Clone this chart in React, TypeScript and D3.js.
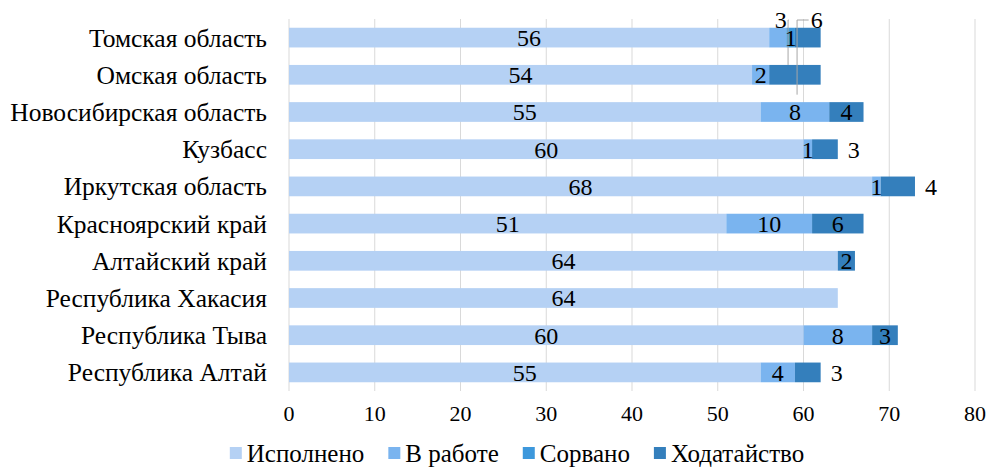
import { useEffect, useRef } from 'react'
import * as d3 from 'd3'

const categories = [
  'Томская область',
  'Омская область',
  'Новосибирская область',
  'Кузбасс',
  'Иркутская область',
  'Красноярский край',
  'Алтайский край',
  'Республика Хакасия',
  'Республика Тыва',
  'Республика Алтай',
]

const seriesNames = ['Исполнено', 'В работе', 'Сорвано', 'Ходатайство']
const colors = ['#b5d1f4', '#7ab4ef', '#3d98dc', '#347fbc']

const done = [56, 54, 55, 60, 68, 51, 64, 64, 60, 55]
const inWork = [2, 2, 8, 1, 1, 10, 0, 0, 8, 4]
const failed = [1, 0, 0, 0, 0, 0, 0, 0, 0, 0]
const petition = [3, 6, 4, 3, 4, 6, 2, 0, 3, 3]

// how the "Ходатайство" label sits: in the bar, after the bar end, or above the chart with a leader
const petitionLabelPos = ['above', 'above', 'in', 'out', 'out', 'in', 'in', 'in', 'in', 'out']
const hiddenLabels = [[0, 1]] // [row, series]

const xTicks = [0, 10, 20, 30, 40, 50, 60, 70, 80]

const FONT = 'Liberation Serif'

export default function App() {
  const svgRef = useRef<SVGSVGElement>(null)

  useEffect(() => {
    document.body.style.margin = '0'
    const width = 988
    const height = 468
    const margin = { top: 19, right: 13, bottom: 77, left: 289 }

    const root = d3.select(svgRef.current)
    root.selectAll('*').remove()
    root.attr('width', width).attr('height', height)

    const x = d3.scaleLinear().domain([0, 80]).range([margin.left, width - margin.right])
    const y = d3
      .scaleBand()
      .domain(categories)
      .range([margin.top, height - margin.bottom])
      .paddingInner(0.47)
      .paddingOuter(0.235)

    // gridlines
    root
      .append('g')
      .selectAll('line')
      .data(xTicks)
      .enter()
      .append('line')
      .attr('x1', (d) => x(d))
      .attr('x2', (d) => x(d))
      .attr('y1', margin.top)
      .attr('y2', height - margin.bottom)
      .attr('stroke', '#d9d9d9')
      .attr('stroke-width', 1)

    // tick labels
    root
      .append('g')
      .selectAll('text')
      .data(xTicks)
      .enter()
      .append('text')
      .attr('x', (d) => x(d))
      .attr('y', 421)
      .attr('text-anchor', 'middle')
      .style('font-family', FONT)
      .style('font-size', '22px')
      .text((d) => d)

    // category labels
    root
      .append('g')
      .selectAll('text')
      .data(categories)
      .enter()
      .append('text')
      .attr('x', margin.left - 22)
      .attr('y', (d) => (y(d) as number) + y.bandwidth() / 2)
      .attr('dy', '0.35em')
      .attr('text-anchor', 'end')
      .style('font-family', FONT)
      .style('font-size', '25.5px')
      .text((d) => d)

    const table = categories.map((c, i) => ({
      cat: c,
      vals: [done[i], inWork[i], failed[i], petition[i]],
    }))
    const stack = d3
      .stack<any>()
      .keys([0, 1, 2, 3] as any)
      .value((d: any, k: any) => d.vals[k])(table)

    const bars = root.append('g')
    stack.forEach((layer, s) => {
      bars
        .append('g')
        .attr('fill', colors[s])
        .selectAll('rect')
        .data(layer.filter((d) => d[1] - d[0] > 0))
        .enter()
        .append('rect')
        .attr('x', (d) => x(d[0]))
        .attr('y', (d) => y(d.data.cat) as number)
        .attr('width', (d) => x(d[1]) - x(d[0]))
        .attr('height', y.bandwidth())
    })

    // leader lines for labels placed above
    const leaders = root.append('g').attr('stroke', '#a6a6a6').attr('fill', 'none')
    const lbl = root.append('g')

    let aboveIdx = 0
    stack.forEach((layer, s) => {
      layer.forEach((d, row) => {
        const v = d[1] - d[0]
        if (v <= 0) return
        if (hiddenLabels.some(([r, ss]) => r === row && ss === s)) return
        const cy = (y(d.data.cat) as number) + y.bandwidth() / 2
        let lx = (x(d[0]) + x(d[1])) / 2
        let ly = cy
        if (s === 3) {
          const pos = petitionLabelPos[row]
          if (pos === 'out') lx = x(d[1]) + 16
          if (pos === 'above') {
            const tx = aboveIdx === 0 ? x(d[1]) - 40 : x(d[1]) - 4
            const ty = margin.top + 1
            const lineX = x(58.2) + aboveIdx * 9
            const bottom = (y(categories[1]) as number) + (aboveIdx === 0 ? 0 : y.bandwidth() + 10)
            leaders
              .append('polyline')
              .attr('points', `${tx + (aboveIdx === 0 ? 8 : -8)},${ty} ${lineX},${ty} ${lineX},${bottom}`)
            lx = tx
            ly = ty
            aboveIdx++
          }
        }
        lbl
          .append('text')
          .attr('x', lx)
          .attr('y', ly)
          .attr('dy', '0.35em')
          .attr('text-anchor', 'middle')
          .style('font-family', FONT)
          .style('font-size', '24px')
          .text(v)
      })
    })

    // legend
    const legend = root.append('g')
    const items = legend
      .selectAll('g')
      .data(seriesNames)
      .enter()
      .append('g')
    items
      .append('rect')
      .attr('width', 12)
      .attr('height', 12)
      .attr('fill', (_d, i) => colors[i])
    items
      .append('text')
      .attr('x', 17)
      .attr('y', 6)
      .attr('dy', '0.35em')
      .style('font-family', FONT)
      .style('font-size', '25px')
      .text((d) => d)
    const widths: number[] = []
    items.each(function () {
      widths.push((this as SVGGElement).getBBox().width)
    })
    const gap = 24
    const total = d3.sum(widths) + gap * (widths.length - 1)
    let cx = 517 - total / 2
    items.attr('transform', (_d, i) => {
      const t = `translate(${cx},${447})`
      cx += widths[i] + gap
      return t
    })
  }, [])

  return (
    <div>
      <svg ref={svgRef}></svg>
    </div>
  )
}
